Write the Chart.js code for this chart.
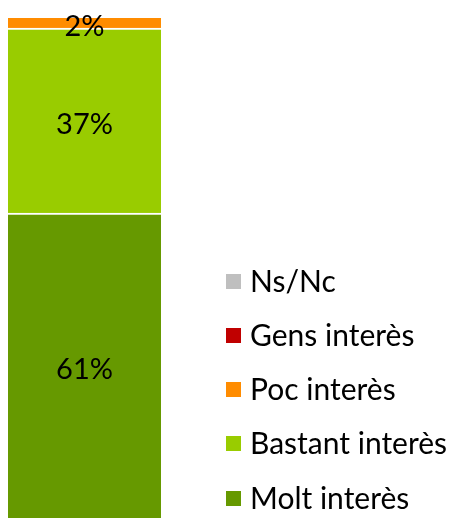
<!DOCTYPE html>
<html>
<head>
<meta charset="utf-8">
<script src="https://cdn.jsdelivr.net/npm/chart.js@4/dist/chart.umd.min.js"></script>
<style>
  html, body { margin: 0; padding: 0; background: #fff; }
  #wrap { width: 460px; height: 518px; }
</style>
</head>
<body>
<div id="wrap"><canvas id="interestChart" width="460" height="518"></canvas></div>
<script>
// Single stacked column, bottom to top
const categories = [''];
const seriesNames = ['Molt interès', 'Bastant interès', 'Poc interès', 'Gens interès', 'Ns/Nc'];
const molt = [61];
const bastant = [37];
const poc = [2];
const gens = [0];
const nsnc = [0];

const seriesValues = [molt, bastant, poc, gens, nsnc];
const seriesColors = ['#669900', '#99cc00', '#ff8c00', '#c00000', '#bfbfbf'];

const fontFamily = 'Lato, "Open Sans", sans-serif';

/** Percentage labels centred inside each segment */
const segmentLabels = {
    id: 'segmentLabels',
    afterDatasetsDraw(chart) {
        const ctx = chart.ctx;
        ctx.save();
        ctx.fillStyle = '#000';
        ctx.font = '29px ' + fontFamily;
        ctx.textAlign = 'center';
        ctx.textBaseline = 'middle';
        chart.data.datasets.forEach((ds, i) => {
            const meta = chart.getDatasetMeta(i);
            meta.data.forEach((bar, j) => {
                const v = ds.data[j];
                if (!v) return;
                ctx.fillText(v + '%', bar.x, (bar.y + bar.base) / 2 + 4);
            });
        });
        ctx.restore();
    }
};

/** Legend on the right, last series on top, anchored near the bottom */
const sideLegend = {
    id: 'sideLegend',
    afterDraw(chart) {
        const ctx = chart.ctx;
        const sets = chart.data.datasets;
        const boxX = 226, box = 15, textX = 250;
        const bottomY = 498, step = 54.25;
        ctx.save();
        ctx.font = '30px ' + fontFamily;
        ctx.textBaseline = 'middle';
        ctx.textAlign = 'left';
        for (let k = 0; k < sets.length; k++) {
            const cy = bottomY - k * step;
            ctx.fillStyle = sets[k].backgroundColor;
            ctx.fillRect(boxX, Math.round(cy - box / 2), box, box);
            ctx.fillStyle = '#000';
            ctx.fillText(sets[k].label, textX, cy + 1);
        }
        ctx.restore();
    }
};

const ctx = document.getElementById('interestChart').getContext('2d');

new Chart(ctx, {
    type: 'bar',
    data: {
        labels: categories,
        datasets: seriesNames.map((name, i) => ({
            label: name,
            data: seriesValues[i],
            backgroundColor: seriesColors[i],
            borderColor: '#ffffff',
            borderWidth: i < 2 ? { top: 2, bottom: 0, left: 0, right: 0 } : 0,
            borderSkipped: false,
            barPercentage: 1,
            categoryPercentage: 1
        }))
    },
    options: {
        responsive: false,
        animation: false,
        layout: { padding: { top: 18, left: 8, right: 299, bottom: 0 } },
        scales: {
            x: { stacked: true, display: false },
            y: { stacked: true, display: false, min: 0, max: 100 }
        },
        plugins: {
            tooltip: { enabled: false },
            legend: { display: false }
        }
    },
    plugins: [segmentLabels, sideLegend]
});
</script>
</body>
</html>
